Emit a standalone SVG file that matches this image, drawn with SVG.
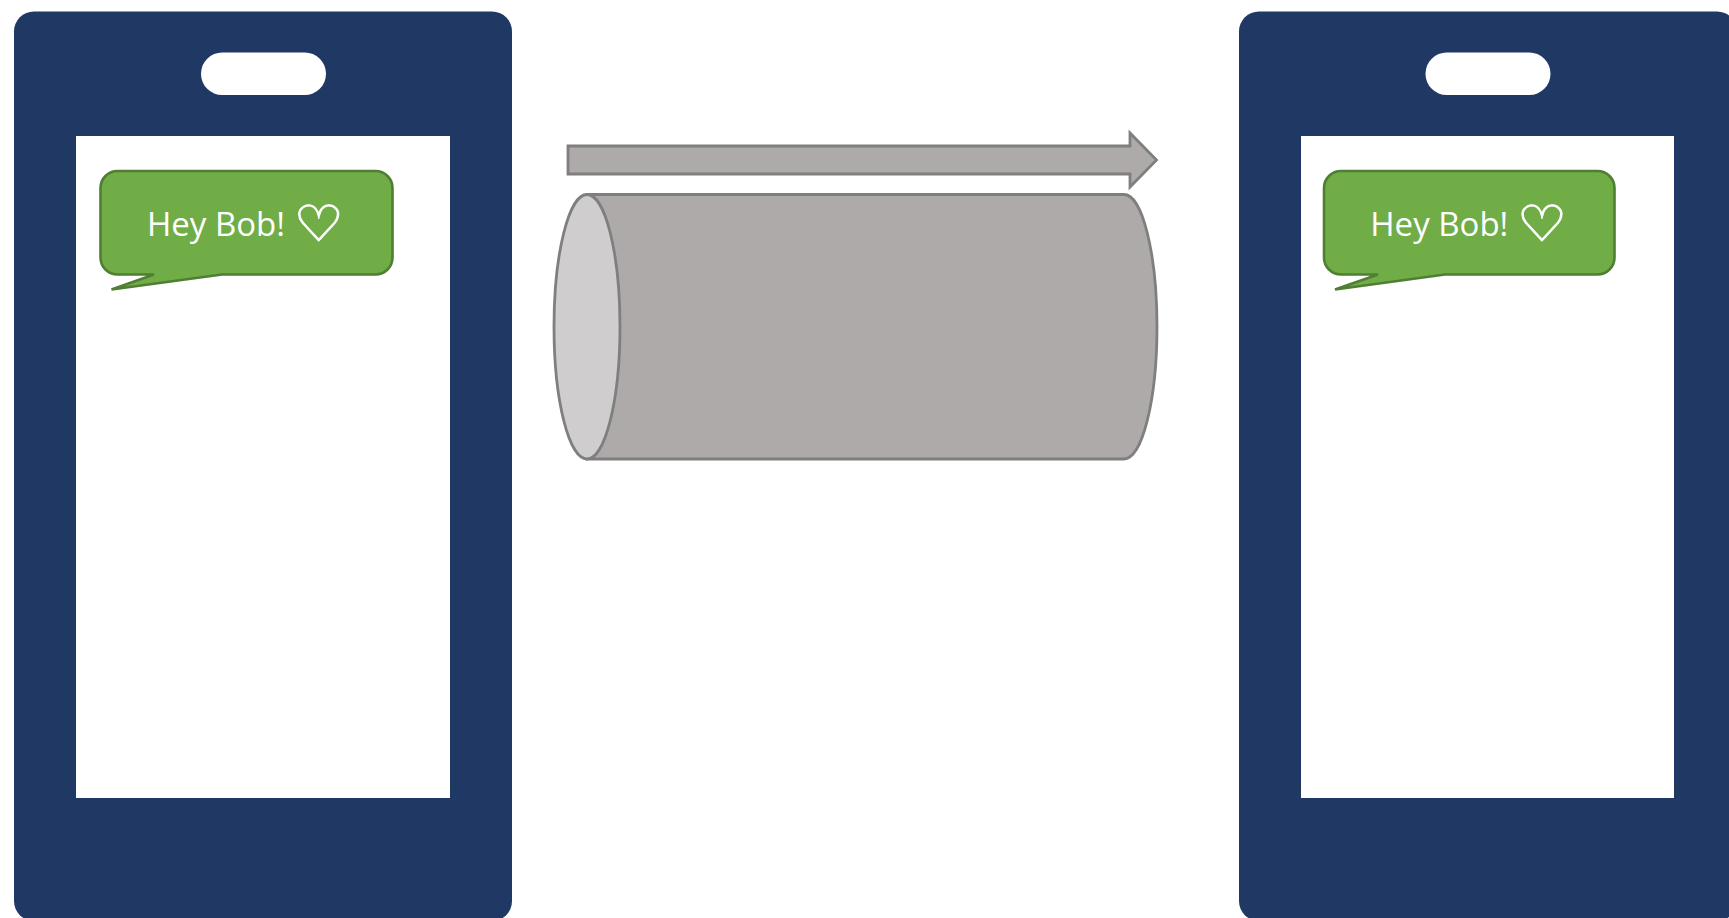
<svg xmlns="http://www.w3.org/2000/svg" width="1729" height="918" viewBox="0 0 1729 918">
<style>
.body{fill:#1f3864}
.hole{fill:#fff}
.bubble{fill:#70ad47;stroke:#507e32;stroke-width:2.6;stroke-linejoin:miter;stroke-miterlimit:3}
.label{font-family:"Open Sans","Noto Sans",sans-serif;font-size:32px;fill:#fff}
.heart{font-family:"DejaVu Sans",sans-serif;font-size:52px;fill:#fff;stroke:#fff;stroke-width:1}
.grey{fill:#aeaaaa;stroke:#7f7f7f;stroke-width:2.8}
.face{fill:#cfcdcd;stroke:#7f7f7f;stroke-width:2.8}
</style>
<g id="phone-left">
<rect class="body" x="14" y="11.500" width="498" height="909.500" rx="20"/>
<rect class="hole" x="76" y="136" width="374" height="662"/>
<rect class="hole" x="201" y="52.500" width="125" height="42.500" rx="21.250"/>
</g>
<g id="bubble-left">
<path class="bubble" d="M117.500 171H375.500A17 17 0 0 1 392.500 188V257.500A17 17 0 0 1 375.500 274.500H222L111.500 289.500L154 274.500H117.500A17 17 0 0 1 100.500 257.500V188A17 17 0 0 1 117.500 171Z"/>
<text class="label" x="147" y="236" textLength="138" lengthAdjust="spacingAndGlyphs">Hey Bob!</text>
<text class="heart" transform="translate(293.500 240.500) scale(1.08 .96)">♡</text>
</g>
<g id="phone-right">
<rect class="body" x="1239" y="11.500" width="498" height="909.500" rx="20"/>
<rect class="hole" x="1301" y="136" width="373" height="662"/>
<rect class="hole" x="1425.500" y="52.500" width="125" height="42.500" rx="21.250"/>
</g>
<g id="bubble-right">
<path class="bubble" d="M1341 171H1597.500A17 17 0 0 1 1614.500 188V257.500A17 17 0 0 1 1597.500 274.500H1445L1335 289.500L1378 274.500H1341A17 17 0 0 1 1324 257.500V188A17 17 0 0 1 1341 171Z"/>
<text class="label" x="1370.300" y="236" textLength="138" lengthAdjust="spacingAndGlyphs">Hey Bob!</text>
<text class="heart" transform="translate(1516.800 240.500) scale(1.08 .96)">♡</text>
</g>
<g id="pipe">
<path class="grey" d="M587 194.500H1124A33 132.250 0 0 1 1124 459H587Z"/>
<ellipse class="face" cx="587" cy="326.750" rx="33" ry="132.250"/>
</g>
<g id="connectors">
<path id="arrow" class="grey" d="M568 146H1130V133L1156.500 160L1130 187V174H568Z"/>
</g>
</svg>
